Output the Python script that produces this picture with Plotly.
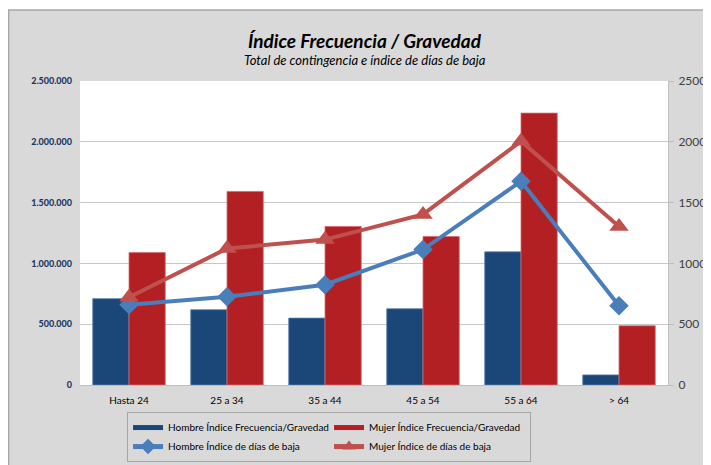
import plotly.graph_objects as go

categories = ["Hasta 24", "25 a 34", "35 a 44", "45 a 54", "55 a 64", "> 64"]
hombre_frec = [710000, 619000, 550000, 627000, 1095000, 83000]
mujer_frec = [1089000, 1592000, 1304000, 1221000, 2236000, 487000]
hombre_dias = [660, 726, 825, 1114, 1675, 652]
mujer_dias = [722, 1122, 1196, 1403, 2005, 1304]
left_ticks = [0, 500000, 1000000, 1500000, 2000000, 2500000]
right_ticks = [0, 500, 1000, 1500, 2000, 2500]

FONT = "Lato"
C_HB = "#1B4778"
C_MB = "#B22024"
C_HL = "#4A7EBB"
C_ML = "#C0504D"

fig = go.Figure()
fig.add_trace(go.Bar(x=categories, y=hombre_frec, name="Hombre Índice Frecuencia/Gravedad",
                     marker=dict(color=C_HB, line=dict(color="#5B7FA8", width=0.8)),
                     yaxis="y", showlegend=False))
fig.add_trace(go.Bar(x=categories, y=mujer_frec, name="Mujer Índice Frecuencia/Gravedad",
                     marker=dict(color=C_MB, line=dict(color="#D56A6D", width=0.8)),
                     yaxis="y", showlegend=False))
fig.add_trace(go.Scatter(x=categories, y=hombre_dias, name="Hombre Índice de días de baja",
                         mode="lines+markers", line=dict(color=C_HL, width=4),
                         marker=dict(symbol="diamond", size=15, color=C_HL), yaxis="y2",
                         legendrank=3))
fig.add_trace(go.Scatter(x=categories, y=mujer_dias, name="Mujer Índice de días de baja",
                         mode="lines+markers", line=dict(color=C_ML, width=4),
                         marker=dict(symbol="triangle-up", size=17, color=C_ML), yaxis="y2",
                         legendrank=4))
# legend keys for the bar series (wide rectangles as in the reference)
fig.add_trace(go.Scatter(x=[None], y=[None], mode="lines", name="Hombre Índice Frecuencia/Gravedad",
                         line=dict(color=C_HB, width=6), yaxis="y", legendrank=1, hoverinfo="skip"))
fig.add_trace(go.Scatter(x=[None], y=[None], mode="lines", name="Mujer Índice Frecuencia/Gravedad",
                         line=dict(color=C_MB, width=6), yaxis="y", legendrank=2, hoverinfo="skip"))

fig.update_layout(
    width=711, height=465,
    margin=dict(l=72, r=51, t=73, b=88, autoexpand=False),
    paper_bgcolor="#D9D9D9",
    plot_bgcolor="white",
    separators=",.",
    barmode="group",
    bargap=0.26,
    bargroupgap=0,
    font=dict(family=FONT, size=10, color="#000000"),
    xaxis=dict(showgrid=False, showline=True, linecolor="#BFBFBF", linewidth=1,
               tickfont=dict(size=10, color="#000000"), ticks="", ticklabelstandoff=6,
               automargin=False),
    yaxis=dict(range=[0, 2500000], tickvals=left_ticks, tickformat=",d",
               showgrid=True, gridcolor="#C8C8C8", gridwidth=1,
               showline=False, ticks="", ticklabelstandoff=7,
               tickfont=dict(size=9, color="#1F3864", family=FONT + " Black, " + FONT),
               zeroline=False, automargin=False),
    yaxis2=dict(range=[0, 2500], tickvals=right_ticks, tickformat="d", overlaying="y", side="right",
                showgrid=False, showline=True, linecolor="#BFBFBF", linewidth=1,
                ticks="outside", ticklen=5, tickcolor="#BFBFBF", ticklabelstandoff=2,
                tickfont=dict(size=12, color="#404040"), zeroline=False, automargin=False),
    legend=dict(orientation="h", x=0.08, xanchor="left", y=-0.089, yanchor="top",
                entrywidth=156, bgcolor="#D9D9D9", bordercolor="#A6A6A6", borderwidth=1,
                font=dict(size=10, color="#000000"), traceorder="normal",
                itemsizing="constant"),
    showlegend=True,
)

fig.add_annotation(text="<b><i>Índice Frecuencia / Gravedad</i></b>", xref="paper", yref="paper",
                   x=0.485, y=1.1316, showarrow=False, font=dict(size=19, color="#000000", family=FONT),
                   xanchor="center", yanchor="middle")
fig.add_annotation(text="<i>Total de contingencia e índice de días de baja</i>", xref="paper", yref="paper",
                   x=0.485, y=1.069, showarrow=False, font=dict(size=13, color="#000000", family=FONT),
                   xanchor="center", yanchor="middle")

# white strip at the top and the chart frame
fig.add_shape(type="rect", xref="paper", yref="paper", x0=-0.2, x1=1.2, y0=1.2336, y1=1.4,
              fillcolor="white", line=dict(width=0))
fig.add_shape(type="line", xref="paper", yref="paper", x0=-0.13, x1=1.2, y0=1.2336, y1=1.2336,
              line=dict(color="#A6A6A6", width=1.5))
fig.add_shape(type="line", xref="paper", yref="paper", x0=-0.1215, x1=-0.1215, y0=-0.4, y1=1.2336,
              line=dict(color="#A6A6A6", width=1.5))

fig.write_html("out.html")
